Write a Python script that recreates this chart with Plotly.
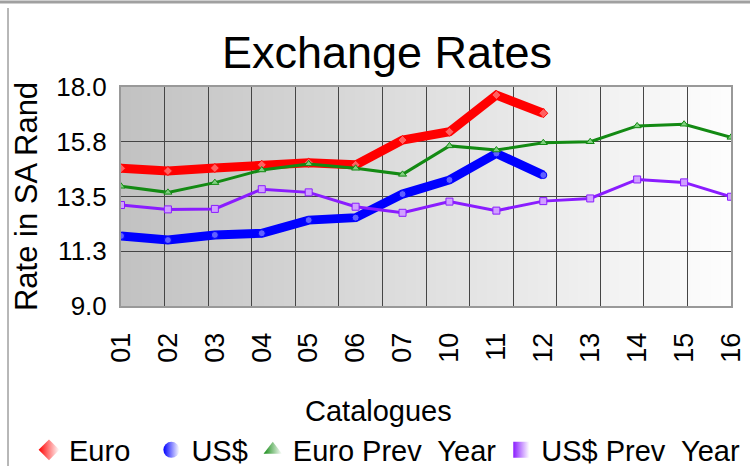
import plotly.graph_objects as go

categories = ['01', '02', '03', '04', '05', '06', '07', '10', '11', '12', '13', '14', '15', '16']
euro = [14.66, 14.55, 14.67, 14.80, 14.89, 14.80, 15.82, 16.16, 17.67, 16.92]
usd = [11.88, 11.71, 11.92, 11.99, 12.53, 12.63, 13.60, 14.18, 15.27, 14.38]
euro_prev = [13.92, 13.67, 14.07, 14.59, 14.84, 14.66, 14.41, 15.58, 15.41, 15.71, 15.75, 16.40, 16.47, 15.93]
usd_prev = [13.15, 12.97, 12.99, 13.80, 13.67, 13.08, 12.83, 13.29, 12.92, 13.31, 13.42, 14.20, 14.08, 13.49]
y_ticks = [9.0, 11.25, 13.5, 15.75, 18.0]
y_ticktext = ['9.0', '11.3', '13.5', '15.8', '18.0']
legend_names = ['Euro\u00a0\u00a0', 'US$', 'Euro Prev\u00a0 Year', 'US$ Prev\u00a0 Year']

FONT = 'Liberation Sans, Arial, sans-serif'
idx = list(range(len(categories)))

fig = go.Figure()

series = [
    ('Euro', euro, '#ff0000', 9, 'diamond', '#ff6060', 7),
    ('US$', usd, '#0000ff', 9, 'circle', '#6060ff', 7),
    ('Euro Prev Year', euro_prev, '#138a13', 3, 'triangle-up', '#80d080', 7),
    ('US$ Prev Year', usd_prev, '#8a1cff', 3, 'square', '#d0a0ff', 7),
]

for name, vals, col, w, sym, light, ms in series:
    fig.add_trace(go.Scatter(
        x=idx[:len(vals)], y=vals, mode='lines+markers', name=name,
        line=dict(color=col, width=w),
        marker=dict(symbol=sym, size=ms, color=light, line=dict(color=col, width=1)),
        showlegend=False, hoverinfo='x+y'))

for (name, vals, col, w, sym, light, ms), lname in zip(series, legend_names):
    fig.add_trace(go.Scatter(
        x=[None], y=[None], mode='markers', name=lname,
        marker=dict(symbol=sym, size=18, color=col,
                    gradient=dict(type='horizontal', color='#ffffff'),
                    line=dict(width=0)),
        showlegend=True))

# gradient background of the plot area
N = 60
c0, c1 = 194, 253
shapes = []
for i in range(N):
    t = (i + 0.5) / N
    c = round(c0 + (c1 - c0) * t)
    shapes.append(dict(type='rect', xref='x domain', yref='y domain',
                       x0=i / N, x1=(i + 1) / N + 0.002, y0=0, y1=1,
                       fillcolor=f'rgb({c},{c},{c})', line=dict(width=0), layer='below'))

# outer frame lines
shapes.append(dict(type='line', xref='paper', yref='paper', x0=-0.2, x1=1.04,
                   y0=(306 - 2) / 219, y1=(306 - 2) / 219,
                   line=dict(color='#a0a0a0', width=3)))
shapes.append(dict(type='line', xref='paper', yref='paper', x0=(8 - 121) / 610, x1=(8 - 121) / 610,
                   y0=(306 - 8) / 219, y1=-0.75,
                   line=dict(color='#707070', width=1)))

fig.update_layout(
    width=750, height=466,
    margin=dict(l=121, r=19, t=87, b=160, autoexpand=False),
    paper_bgcolor='white', plot_bgcolor='rgba(0,0,0,0)',
    font=dict(family=FONT, color='black'),
    title=dict(text='Exchange Rates', font=dict(size=45, family=FONT),
               x=0.516, xref='container', xanchor='center',
               y=1 - 52 / 466, yref='container', yanchor='middle'),
    shapes=shapes,
    showlegend=True,
    legend=dict(orientation='h', x=(29 - 121) / 610, xanchor='left',
                y=(306 - 450) / 219, yanchor='middle',
                font=dict(size=29, family=FONT), bgcolor='rgba(0,0,0,0)',
                itemwidth=30, tracegroupgap=0),
    annotations=[dict(text='Catalogues', xref='paper', yref='paper',
                      x=(378 - 121) / 610, y=(306 - 411) / 219, xanchor='center', yanchor='middle',
                      showarrow=False, font=dict(size=29, family=FONT))],
    xaxis=dict(range=[0, 13], tickmode='array', tickvals=idx, ticktext=categories,
               tickangle=-90, tickfont=dict(size=27, family=FONT), ticks='',
               ticklabelstandoff=14, automargin=False,
               showgrid=False, zeroline=False,
               showline=True, mirror=True, linecolor='#999999', linewidth=2,
               minor=dict(tickmode='linear', tick0=0, dtick=13 / 14, showgrid=True,
                          gridcolor='#454545', gridwidth=1, ticks='')),
    yaxis=dict(range=[9, 18], tickmode='array', tickvals=y_ticks, ticktext=y_ticktext,
               tickfont=dict(size=26, family=FONT), ticks='', ticklabelstandoff=7,
               automargin=False,
               showgrid=True, gridcolor='#454545', gridwidth=1, zeroline=False,
               showline=True, mirror=True, linecolor='#999999', linewidth=2,
               title=dict(text='Rate in SA Rand', font=dict(size=31, family=FONT), standoff=9)),
)

fig.write_html('out.html', config={'displayModeBar': False},
               post_script="document.body.style.margin='0';document.body.style.overflow='hidden';")
